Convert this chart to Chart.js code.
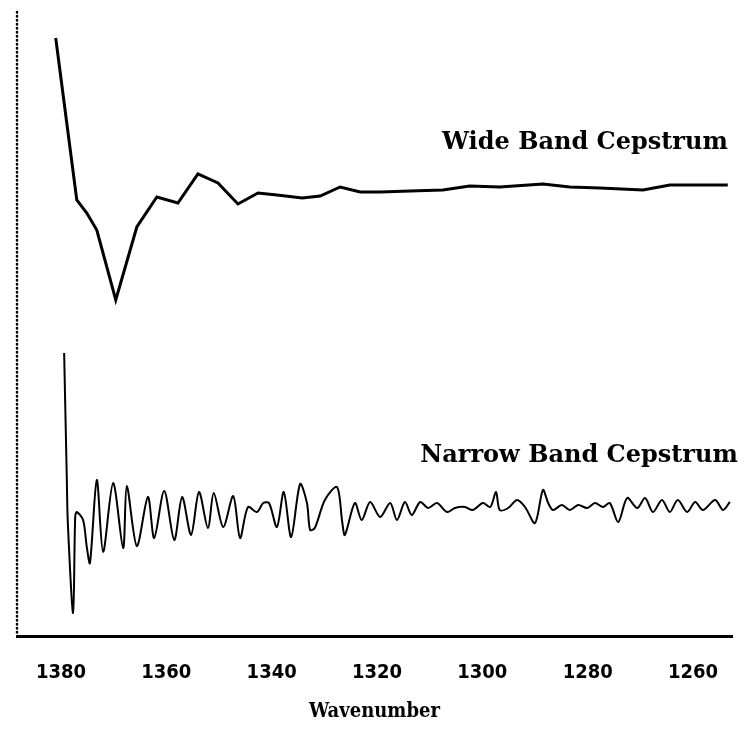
<!DOCTYPE html>
<html>
<head>
<meta charset="utf-8">
<script src="https://cdn.jsdelivr.net/npm/chart.js@4.4.1/dist/chart.umd.min.js"></script>
<style>
    html, body { margin: 0; padding: 0; background: #fff; }
    #wrap { width: 745px; height: 742px; }
</style>
</head>
<body>
<div id="wrap"><canvas id="chart"></canvas></div>
<script>
// wavenumber ticks shown on the x axis
const xTicks = [1380, 1360, 1340, 1320, 1300, 1280, 1260];

// wide band cepstrum
const wideX = [1381.0, 1377.0, 1375.1, 1373.2, 1369.6, 1365.6, 1361.8, 1357.8, 1354.0, 1350.2,
    1346.4, 1342.6, 1339.0, 1334.2, 1330.8, 1327.0, 1323.2, 1319.4, 1313.7, 1307.5,
    1302.4, 1296.7, 1288.5, 1283.4, 1277.7, 1269.5, 1264.4, 1258.7, 1253.4];
const wideY = [59.8, 43.6, 42.3, 40.6, 33.6, 40.9, 43.9, 43.3, 46.2, 45.3,
    43.2, 44.3, 44.1, 43.8, 44.0, 44.9, 44.4, 44.4, 44.5, 44.6,
    45.0, 44.9, 45.2, 44.9, 44.8, 44.6, 45.1, 45.1, 45.1];

// narrow band cepstrum
const narrowX = [1379.4, 1378.9, 1378.7, 1377.7, 1377.3, 1377.0, 1375.8, 1375.1, 1374.5, 1373.2,
    1372.0, 1370.1, 1368.2, 1367.5, 1365.6, 1363.5, 1362.3, 1360.4, 1358.5, 1357.0,
    1355.3, 1353.8, 1352.1, 1351.0, 1349.2, 1347.3, 1346.0, 1344.5, 1342.8, 1341.6,
    1340.5, 1339.0, 1337.7, 1336.3, 1334.6, 1333.3, 1332.7, 1331.8, 1329.9, 1327.6,
    1326.6, 1326.1, 1324.2, 1322.9, 1321.3, 1319.4, 1317.5, 1316.2, 1314.7, 1313.4,
    1311.8, 1310.3, 1308.6, 1306.7, 1305.2, 1303.3, 1301.8, 1299.9, 1298.5, 1297.4,
    1296.7, 1295.1, 1293.4, 1291.9, 1290.0, 1288.5, 1287.5, 1286.6, 1284.9, 1283.4,
    1281.8, 1280.1, 1278.6, 1277.1, 1275.8, 1274.2, 1272.5, 1270.6, 1269.1, 1267.6,
    1265.9, 1264.4, 1262.9, 1261.1, 1259.6, 1258.1, 1255.8, 1254.3, 1253.0];
const narrowY = [28.3, 15.9, 11.3, 2.3, 11.9, 12.4, 11.6, 8.9, 7.3, 15.6,
    8.4, 15.3, 8.8, 15.0, 9.0, 13.9, 9.8, 14.5, 9.6, 13.9,
    10.1, 14.4, 10.8, 14.3, 10.9, 14.0, 9.8, 12.9, 12.4, 13.3,
    13.3, 10.9, 14.4, 9.9, 15.2, 13.3, 10.6, 10.8, 13.6, 14.9,
    11.4, 10.1, 13.3, 11.6, 13.4, 11.9, 13.3, 11.6, 13.4, 12.1,
    13.4, 12.8, 13.3, 12.4, 12.8, 12.9, 12.6, 13.3, 12.9, 14.4,
    12.6, 12.8, 13.6, 12.9, 11.3, 14.6, 13.3, 12.6, 13.1, 12.6,
    13.1, 12.8, 13.3, 12.9, 13.3, 11.4, 13.8, 12.8, 13.8, 12.4,
    13.6, 12.4, 13.6, 12.4, 13.4, 12.6, 13.6, 12.6, 13.4];

const seriesNames = ['Wide Band Cepstrum', 'Narrow Band Cepstrum'];

const toPoints = (xs, ys) => xs.map((x, i) => ({ x: x, y: ys[i] }));

// dotted left axis line (Chart.js border ignores dash)
const dottedAxis = {
    id: 'dottedAxis',
    beforeDatasetsDraw(chart) {
        const { ctx, chartArea } = chart;
        ctx.save();
        ctx.strokeStyle = '#000';
        ctx.lineWidth = 2.5;
        ctx.lineCap = 'round';
        ctx.setLineDash([0.5, 3.5]);
        ctx.beginPath();
        ctx.moveTo(chartArea.left, chartArea.top);
        ctx.lineTo(chartArea.left, chartArea.bottom);
        ctx.stroke();
        ctx.restore();
    }
};

// curve labels drawn to the left of the right edge, above each trace
const curveLabels = {
    id: 'curveLabels',
    afterDatasetsDraw(chart) {
        const ctx = chart.ctx;
        const xs = chart.scales.x, ys = chart.scales.y;
        ctx.save();
        ctx.fillStyle = '#000';
        ctx.textAlign = 'right';
        ctx.textBaseline = 'middle';
        ctx.font = 'bold 24px "DejaVu Serif", serif';
        ctx.fillText(seriesNames[0], xs.getPixelForValue(1253.4), ys.getPixelForValue(49.3));
        ctx.fillText(seriesNames[1], xs.getPixelForValue(1251.5), ys.getPixelForValue(18.0));
        ctx.restore();
    }
};

new Chart(document.getElementById('chart'), {
    type: 'line',
    data: {
        datasets: [{
            label: seriesNames[0],
            data: toPoints(wideX, wideY),
            borderColor: '#000',
            borderWidth: 3,
            pointRadius: 0,
            tension: 0
        }, {
            label: seriesNames[1],
            data: toPoints(narrowX, narrowY),
            borderColor: '#000',
            borderWidth: 2,
            pointRadius: 0,
            tension: 0.3
        }]
    },
    options: {
        responsive: true,
        maintainAspectRatio: false,
        animation: false,
        layout: { padding: { left: 17, top: 12, right: 13, bottom: 0 } },
        plugins: { legend: { display: false }, tooltip: { enabled: false } },
        scales: {
            x: {
                type: 'linear',
                reverse: true,
                min: 1252.6,
                max: 1388.35,
                afterBuildTicks: s => { s.ticks = xTicks.map(v => ({ value: v })); },
                afterFit: s => { s.height = 106; },
                grid: { display: false, drawTicks: false },
                border: { display: true, color: '#000', width: 3 },
                ticks: {
                    color: '#000',
                    padding: 25,
                    maxRotation: 0,
                    callback: v => String(v),
                    font: { family: '"DejaVu Sans Condensed", "Liberation Sans Narrow", sans-serif', weight: 'bold', size: 20 }
                },
                title: {
                    display: true,
                    text: 'Wavenumber',
                    color: '#000',
                    padding: { top: 0, bottom: 18 },
                    font: { family: '"DejaVu Serif Condensed", "DejaVu Serif", serif', weight: 'bold', size: 20 }
                }
            },
            y: {
                min: 0,
                max: 62.4,
                afterFit: s => { s.width = 0; },
                grid: { display: false, drawTicks: false },
                border: { display: false },
                ticks: { display: false }
            }
        }
    },
    plugins: [dottedAxis, curveLabels]
});
</script>
</body>
</html>
